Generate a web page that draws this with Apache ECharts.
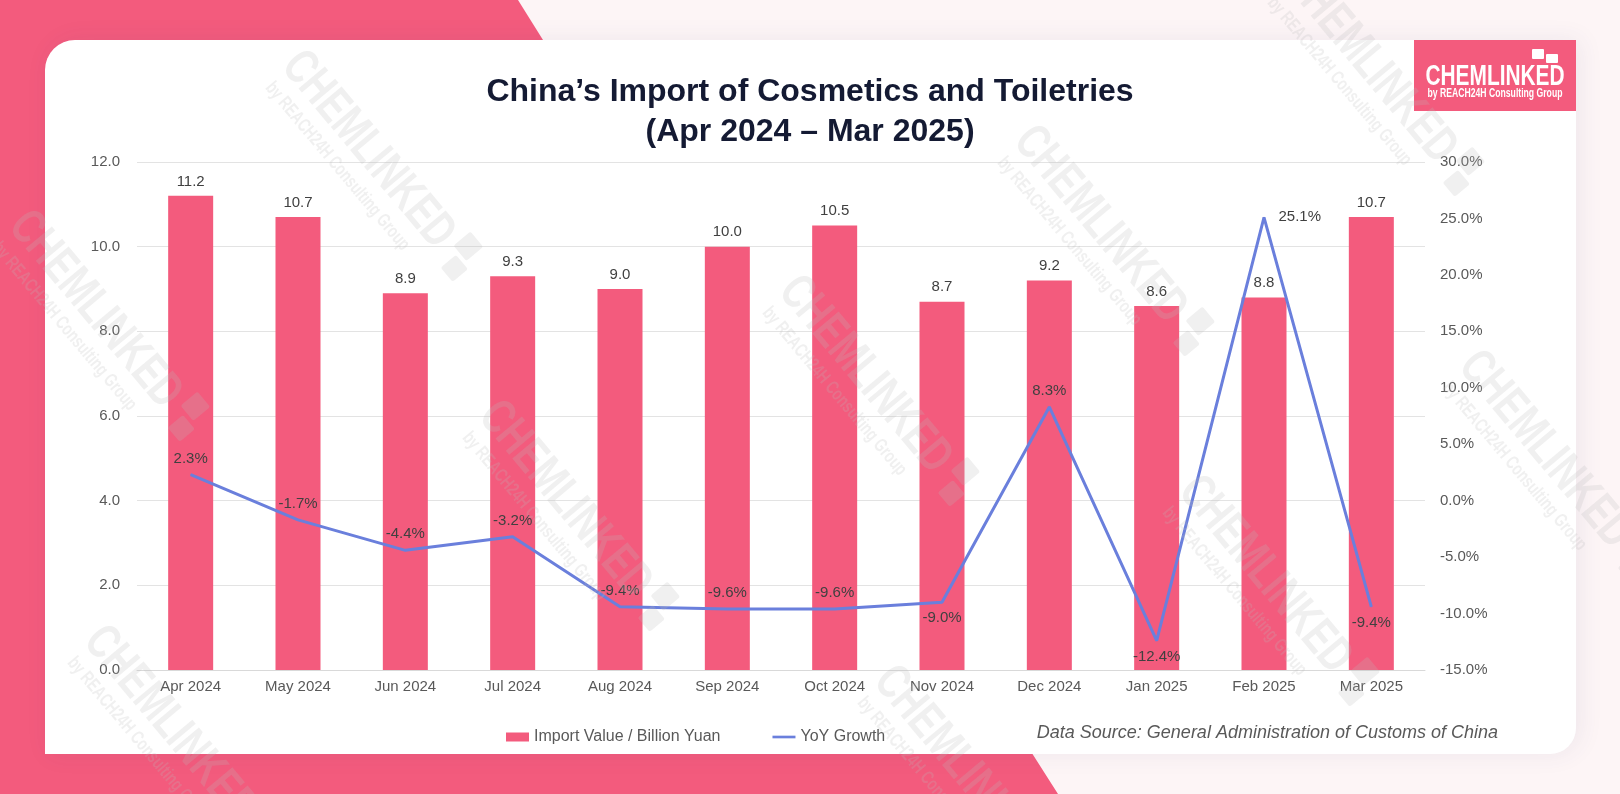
<!DOCTYPE html>
<html lang="en">
<head>
    <meta charset="UTF-8">
    <title>China's Import of Cosmetics and Toiletries</title>
    <script src="https://cdn.jsdelivr.net/npm/echarts@6.0.0/dist/echarts.min.js"></script>
    <style>
        html, body { margin: 0; padding: 0; background: #fdf5f6; }
        #chart { width: 1620px; height: 794px; }
    </style>
</head>
<body>
    <div id="chart"></div>
    <script>
        // Data
        var months = ['Apr 2024', 'May 2024', 'Jun 2024', 'Jul 2024', 'Aug 2024', 'Sep 2024',
                      'Oct 2024', 'Nov 2024', 'Dec 2024', 'Jan 2025', 'Feb 2025', 'Mar 2025'];
        var importValue = [11.2, 10.7, 8.9, 9.3, 9.0, 10.0, 10.5, 8.7, 9.2, 8.6, 8.8, 10.7];
        var yoyGrowth = [2.3, -1.7, -4.4, -3.2, -9.4, -9.6, -9.6, -9.0, 8.3, -12.4, 25.1, -9.4];

        var PINK = '#f35b7d';
        var BLUE = '#6a7fdc';
        var FONT = '"Liberation Sans", Arial, sans-serif';
        var WM = 'rgba(185,185,185,0.22)';

        var chart = echarts.init(document.getElementById('chart'));

        // line label placement, tweaked so labels don't sit on the line
        var lineLabelPos = { 7: 'bottom', 9: 'bottom', 10: 'right', 11: 'bottom' };

        var lineData = yoyGrowth.map(function (v, i) {
            var pos = lineLabelPos[i] || 'top';
            return { value: v, label: { position: pos, distance: pos === 'right' ? 14 : 8 } };
        });

        // faint watermark stamps (condensed bold text, rotated)
        function watermark(x, y) {
            return {
                type: 'group', x: x, y: y, rotation: -50 * Math.PI / 180, silent: true,
                children: [{
                    type: 'group', scaleX: 0.72,
                    children: [
                        { type: 'text', z: 100, style: { text: 'CHEMLINKED', x: 0, y: 0, font: 'bold 50px ' + FONT,
                            fill: WM, align: 'center', verticalAlign: 'middle' } },
                        { type: 'text', z: 100, style: { text: 'by REACH24H Consulting Group', x: -10, y: 34, font: 'bold 19px ' + FONT,
                            fill: WM, align: 'center', verticalAlign: 'middle' } },
                        { type: 'rect', z: 100, shape: { x: 178, y: -26, width: 28, height: 22, r: 3 }, style: { fill: WM } },
                        { type: 'rect', z: 100, shape: { x: 190, y: 0, width: 26, height: 20, r: 3 }, style: { fill: WM } }
                    ]
                }]
            };
        }
        var marks = [[368, 150], [95, 310], [1370, 65], [1100, 225], [865, 375], [565, 500],
                     [1545, 450], [1265, 575], [170, 725], [960, 765]].map(function (p) { return watermark(p[0], p[1]); });

        var option = {
            backgroundColor: '#fdf5f6',
            textStyle: { fontFamily: FONT },
            graphic: [
                { type: 'polygon', z: -10, shape: { points: [[0, 0], [518, 0], [568, 80], [1007, 714], [1058, 794], [0, 794]] },
                  style: { fill: PINK } },
                { type: 'rect', z: -9, shape: { x: 45, y: 40, width: 1531, height: 714, r: [30, 0, 26, 0] },
                  style: { fill: '#ffffff', shadowBlur: 24, shadowColor: 'rgba(60,70,110,0.08)', shadowOffsetX: 4 } },
                { type: 'rect', z: 50, shape: { x: 1414, y: 40, width: 162, height: 71 }, style: { fill: PINK } },
                { type: 'group', x: 1495, y: 0, scaleX: 0.72, children: [
                    { type: 'text', z: 51, style: { text: 'CHEMLINKED', x: 0, y: 77, align: 'center', verticalAlign: 'middle',
                        font: 'bold 29px ' + FONT, fill: '#ffffff' } },
                    { type: 'text', z: 51, style: { text: 'by REACH24H Consulting Group', x: 0, y: 94, align: 'center', verticalAlign: 'middle',
                        font: 'bold 12px ' + FONT, fill: '#ffffff' } }
                ] },
                { type: 'rect', z: 51, shape: { x: 1532, y: 49, width: 12, height: 10, r: 1 }, style: { fill: '#ffffff' } },
                { type: 'rect', z: 51, shape: { x: 1546, y: 54, width: 12, height: 9, r: 1 }, style: { fill: '#ffffff' } },
                { type: 'text', style: { text: 'Data Source: General Administration of Customs of China', x: 1498, y: 733,
                    align: 'right', verticalAlign: 'middle', font: 'italic 18px ' + FONT, fill: '#595959' } }
            ].concat(marks),
            title: {
                text: 'China\u2019s Import of Cosmetics and Toiletries\n(Apr 2024 \u2013 Mar 2025)',
                left: 'center', top: 67,
                textStyle: { fontSize: 32, fontWeight: 'bold', color: '#141a33', lineHeight: 40, fontFamily: FONT }
            },
            legend: {
                left: 501, top: 724, itemGap: 52, itemWidth: 23, itemHeight: 9,
                textStyle: { color: '#595959', fontSize: 16, fontFamily: FONT },
                data: [
                    { name: 'Import Value / Billion Yuan', icon: 'rect' },
                    { name: 'YoY Growth', icon: 'path://M0,0 L26,0 L26,3 L0,3 Z', itemStyle: { color: BLUE } }
                ]
            },
            grid: { left: 137, right: 195, top: 162, bottom: 124 },
            xAxis: {
                type: 'category', data: months,
                axisLine: { lineStyle: { color: '#d9d9d9' } },
                axisTick: { show: false },
                axisLabel: { color: '#595959', fontSize: 15, margin: 9 }
            },
            yAxis: [
                {
                    type: 'value', min: 0, max: 12, interval: 2,
                    axisLabel: { color: '#595959', fontSize: 15, margin: 17, formatter: function (v) { return v.toFixed(1); } },
                    splitLine: { lineStyle: { color: '#e3e3e3' } },
                    axisLine: { show: false }, axisTick: { show: false }
                },
                {
                    type: 'value', min: -15, max: 30, interval: 5,
                    axisLabel: { color: '#595959', fontSize: 15, margin: 15, formatter: function (v) { return v.toFixed(1) + '%'; } },
                    splitLine: { show: false },
                    axisLine: { show: false }, axisTick: { show: false }
                }
            ],
            series: [
                {
                    name: 'Import Value / Billion Yuan', type: 'bar', data: importValue, barWidth: 45,
                    itemStyle: { color: PINK },
                    label: { show: true, position: 'top', distance: 7, color: '#404040', fontSize: 15,
                             formatter: function (p) { return p.value.toFixed(1); } }
                },
                {
                    name: 'YoY Growth', type: 'line', yAxisIndex: 1, data: lineData,
                    symbol: 'circle', symbolSize: 1, showSymbol: true,
                    lineStyle: { color: BLUE, width: 3 }, itemStyle: { color: BLUE },
                    label: { show: true, color: '#404040', fontSize: 15,
                             formatter: function (p) { return p.value.toFixed(1) + '%'; } },
                    z: 5
                }
            ]
        };

        chart.setOption(option);
    </script>
</body>
</html>
